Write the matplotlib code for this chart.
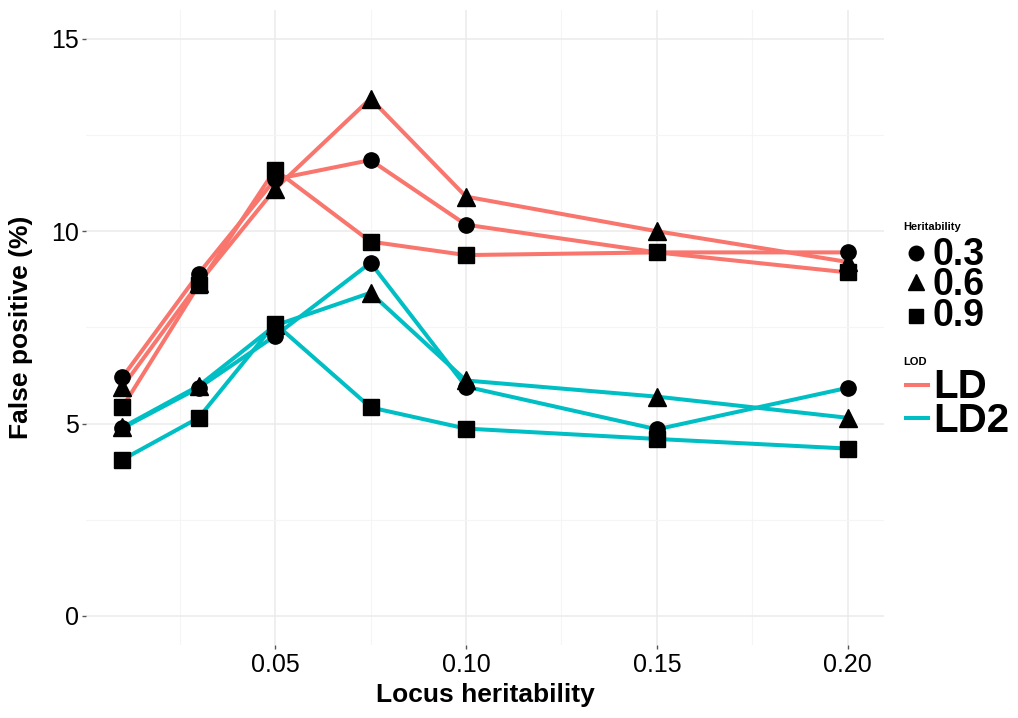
import numpy as np
import matplotlib.pyplot as plt
from matplotlib.lines import Line2D

plt.rcParams['font.family'] = ['Liberation Sans', 'DejaVu Sans']

#### Data ####

locus_h = [0.01, 0.03, 0.05, 0.075, 0.10, 0.15, 0.20]
heritabilities = ['0.3', '0.6', '0.9']
lods = ['LD', 'LD2']

ld_h03 = [6.2, 8.9, 11.35, 11.85, 10.17, 9.45, 9.45]
ld_h06 = [5.95, 8.65, 11.1, 13.45, 10.9, 10.0, 9.2]
ld_h09 = [5.42, 8.6, 11.6, 9.73, 9.38, 9.45, 8.93]

ld2_h03 = [4.88, 5.93, 7.28, 9.18, 5.96, 4.85, 5.93]
ld2_h06 = [4.9, 5.98, 7.55, 8.4, 6.12, 5.7, 5.15]
ld2_h09 = [4.06, 5.15, 7.6, 5.42, 4.87, 4.6, 4.35]

series = {
    'LD': [ld_h03, ld_h06, ld_h09],
    'LD2': [ld2_h03, ld2_h06, ld2_h09],
}

#### Style ####

colors = {'LD': '#F8766D', 'LD2': '#00BFC4'}
markers = {'0.3': ('o', 11), '0.6': ('^', 12.5), '0.9': ('s', 11)}

fig = plt.figure(figsize=(10.18, 7.18), dpi=100)
ax = fig.add_axes([0.0845, 0.102, 0.784, 0.884])

# lines first, then points (like geom_line + geom_point)
for lod in lods:
    for y in series[lod]:
        ax.plot(locus_h, y, color=colors[lod], lw=2.9, zorder=2, solid_capstyle='butt')
for lod in lods:
    for h, y in zip(heritabilities, series[lod]):
        m, ms = markers[h]
        ax.plot(locus_h, y, ls='none', marker=m, markersize=ms, color='black', zorder=3)

ax.set_xlim(0.0005, 0.2095)
ax.set_ylim(-0.75, 15.75)
ax.set_xticks([0.05, 0.10, 0.15, 0.20])
ax.set_xticklabels(['0.05', '0.10', '0.15', '0.20'])
ax.set_xticks([0.025, 0.075, 0.125, 0.175], minor=True)
ax.set_yticks([0, 5, 10, 15])
ax.set_yticks([2.5, 7.5, 12.5], minor=True)

ax.grid(which='major', color='#EBEBEB', lw=1.1, zorder=0)
ax.grid(which='minor', color='#F5F5F5', lw=0.8, zorder=0)
ax.set_axisbelow(True)
for s in ax.spines.values():
    s.set_visible(False)

ax.tick_params(axis='y', which='major', length=3, color='#555555', width=1, labelsize=18, pad=2)
ax.tick_params(axis='x', which='major', length=3, color='#555555', width=1, labelsize=18, pad=3)
ax.tick_params(which='minor', length=0)

ax.set_xlabel('Locus heritability', fontsize=19, fontweight='bold')
ax.set_ylabel('False positive (%)', fontsize=19, fontweight='bold')
ax.xaxis.set_label_coords(0.5, -0.060)
ax.yaxis.set_label_coords(-0.066, 0.5)

#### Legend (drawn by hand) ####

fig.text(903 / 1018, 1 - 230 / 718, 'Heritability', fontsize=8, fontweight='bold', va='baseline', ha='left')
leg_base = [265, 295, 326]
leg_mark = [253, 282, 316]
for h, pb, pm in zip(heritabilities, leg_base, leg_mark):
    m, ms = markers[h]
    fig.add_artist(Line2D([916 / 1018], [1 - pm / 718], marker=m, markersize=ms * 0.95,
                          color='black', ls='none', transform=fig.transFigure))
    fig.text(933 / 1018, 1 - pb / 718, h, fontsize=27, fontweight='bold', va='baseline', ha='left')

fig.text(903 / 1018, 1 - 365 / 718, 'LOD', fontsize=8, fontweight='bold', va='baseline', ha='left')
for lod, pb, pm in zip(lods, [398, 432], [385, 418]):
    fig.add_artist(Line2D([906 / 1018, 928 / 1018], [1 - pm / 718, 1 - pm / 718],
                          color=colors[lod], lw=2.9, transform=fig.transFigure))
    fig.text(933 / 1018, 1 - pb / 718, lod, fontsize=29, fontweight='bold', va='baseline', ha='left')

fig.savefig('out.png', dpi=100)
